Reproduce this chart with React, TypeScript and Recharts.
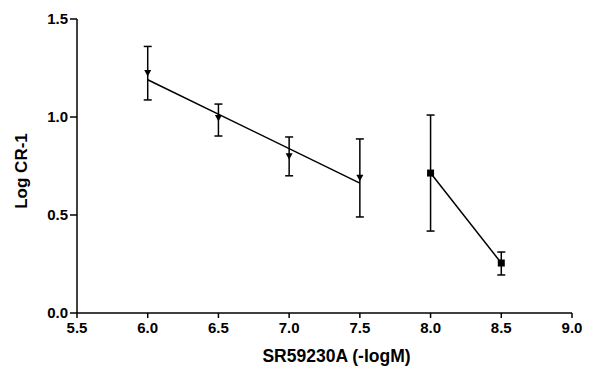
import React from 'react';
import { ComposedChart, Scatter, ErrorBar, XAxis, YAxis } from 'recharts';

// Triangles: measured points (SR59230A 6.0 – 7.5)
const triX = [6.0, 6.5, 7.0, 7.5];
const triY = [1.224, 0.995, 0.8, 0.69];
const triErrLow = [0.137, 0.092, 0.1, 0.2];
const triErrHigh = [0.136, 0.071, 0.098, 0.198];

// Regression line through triangles
const fitX = [6.0, 7.5];
const fitY = [1.19, 0.663];

// Squares: measured points (8.0 – 8.5)
const sqX = [8.0, 8.5];
const sqY = [0.714, 0.255];
const sqErrLow = [0.296, 0.061];
const sqErrHigh = [0.296, 0.056];

const xTicks = [5.5, 6.0, 6.5, 7.0, 7.5, 8.0, 8.5, 9.0];
const yTicks = [0, 0.5, 1.0, 1.5];

const triData = triX.map((x, i) => ({ x, y: triY[i], err: [triErrLow[i], triErrHigh[i]] }));
const fitData = fitX.map((x, i) => ({ x, y: fitY[i] }));
const sqData = sqX.map((x, i) => ({ x, y: sqY[i], err: [sqErrLow[i], sqErrHigh[i]] }));

const font = '"Liberation Sans", Arial, sans-serif';

const TriangleDown = (props: any) => {
  const { cx, cy } = props;
  return <path d={`M${cx - 3.5},${cy - 3} L${cx + 3.5},${cy - 3} L${cx},${cy + 3.5} Z`} fill="#000" />;
};

const Square = (props: any) => {
  const { cx, cy } = props;
  return <rect x={cx - 3.5} y={cy - 3.5} width={7} height={7} fill="#000" />;
};

const NoDot = () => <g />;

const XTitle = (props: any) => {
  const { viewBox } = props;
  const cx = viewBox.x + viewBox.width / 2 + 12;
  return (
    <text x={cx} y={362} textAnchor="middle" fill="#000" fontSize={17.5} fontWeight="bold" fontFamily={font}>
      SR59230A (-logM)
    </text>
  );
};

const YTitle = (props: any) => {
  const { viewBox } = props;
  const cy = viewBox.y + viewBox.height / 2 + 5;
  return (
    <text x={27} y={cy} transform={`rotate(-90, 27, ${cy})`} textAnchor="middle" fill="#000" fontSize={17} fontWeight="bold" fontFamily={font}>
      Log CR-1
    </text>
  );
};

const App = () => {
  return (
    <div style={{ position: 'absolute', left: 0, top: 0, background: '#fff' }}>
      <ComposedChart width={605} height={366} margin={{ top: 19, right: 33, left: 0, bottom: 0 }}>
        <XAxis
          type="number"
          dataKey="x"
          domain={[5.5, 9.0]}
          ticks={xTicks}
          tickFormatter={(v: number) => v.toFixed(1)}
          height={53}
          tick={{ fill: '#000', fontSize: 15, fontWeight: 'bold', fontFamily: font }}
          axisLine={{ stroke: '#000', strokeWidth: 1.5 }}
          tickLine={{ stroke: '#000', strokeWidth: 1.5 }}
          tickSize={5}
          tickMargin={4}
          label={{ content: XTitle }}
        />
        <YAxis
          type="number"
          dataKey="y"
          domain={[0, 1.5]}
          ticks={yTicks}
          tickFormatter={(v: number) => v.toFixed(1)}
          width={77}
          tick={{ fill: '#000', fontSize: 15, fontWeight: 'bold', fontFamily: font }}
          axisLine={{ stroke: '#000', strokeWidth: 1.5 }}
          tickLine={{ stroke: '#000', strokeWidth: 1.5 }}
          tickSize={7}
          tickMargin={2}
          label={{ content: YTitle }}
        />
        <Scatter data={fitData} line={{ stroke: '#000', strokeWidth: 1.5 }} shape={<NoDot />} isAnimationActive={false} />
        <Scatter data={triData} shape={<TriangleDown />} isAnimationActive={false}>
          <ErrorBar dataKey="err" direction="y" width={4} stroke="#000" strokeWidth={1.5} />
        </Scatter>
        <Scatter data={sqData} line={{ stroke: '#000', strokeWidth: 1.5 }} shape={<Square />} isAnimationActive={false}>
          <ErrorBar dataKey="err" direction="y" width={4} stroke="#000" strokeWidth={1.5} />
        </Scatter>
      </ComposedChart>
    </div>
  );
};

export default App;
